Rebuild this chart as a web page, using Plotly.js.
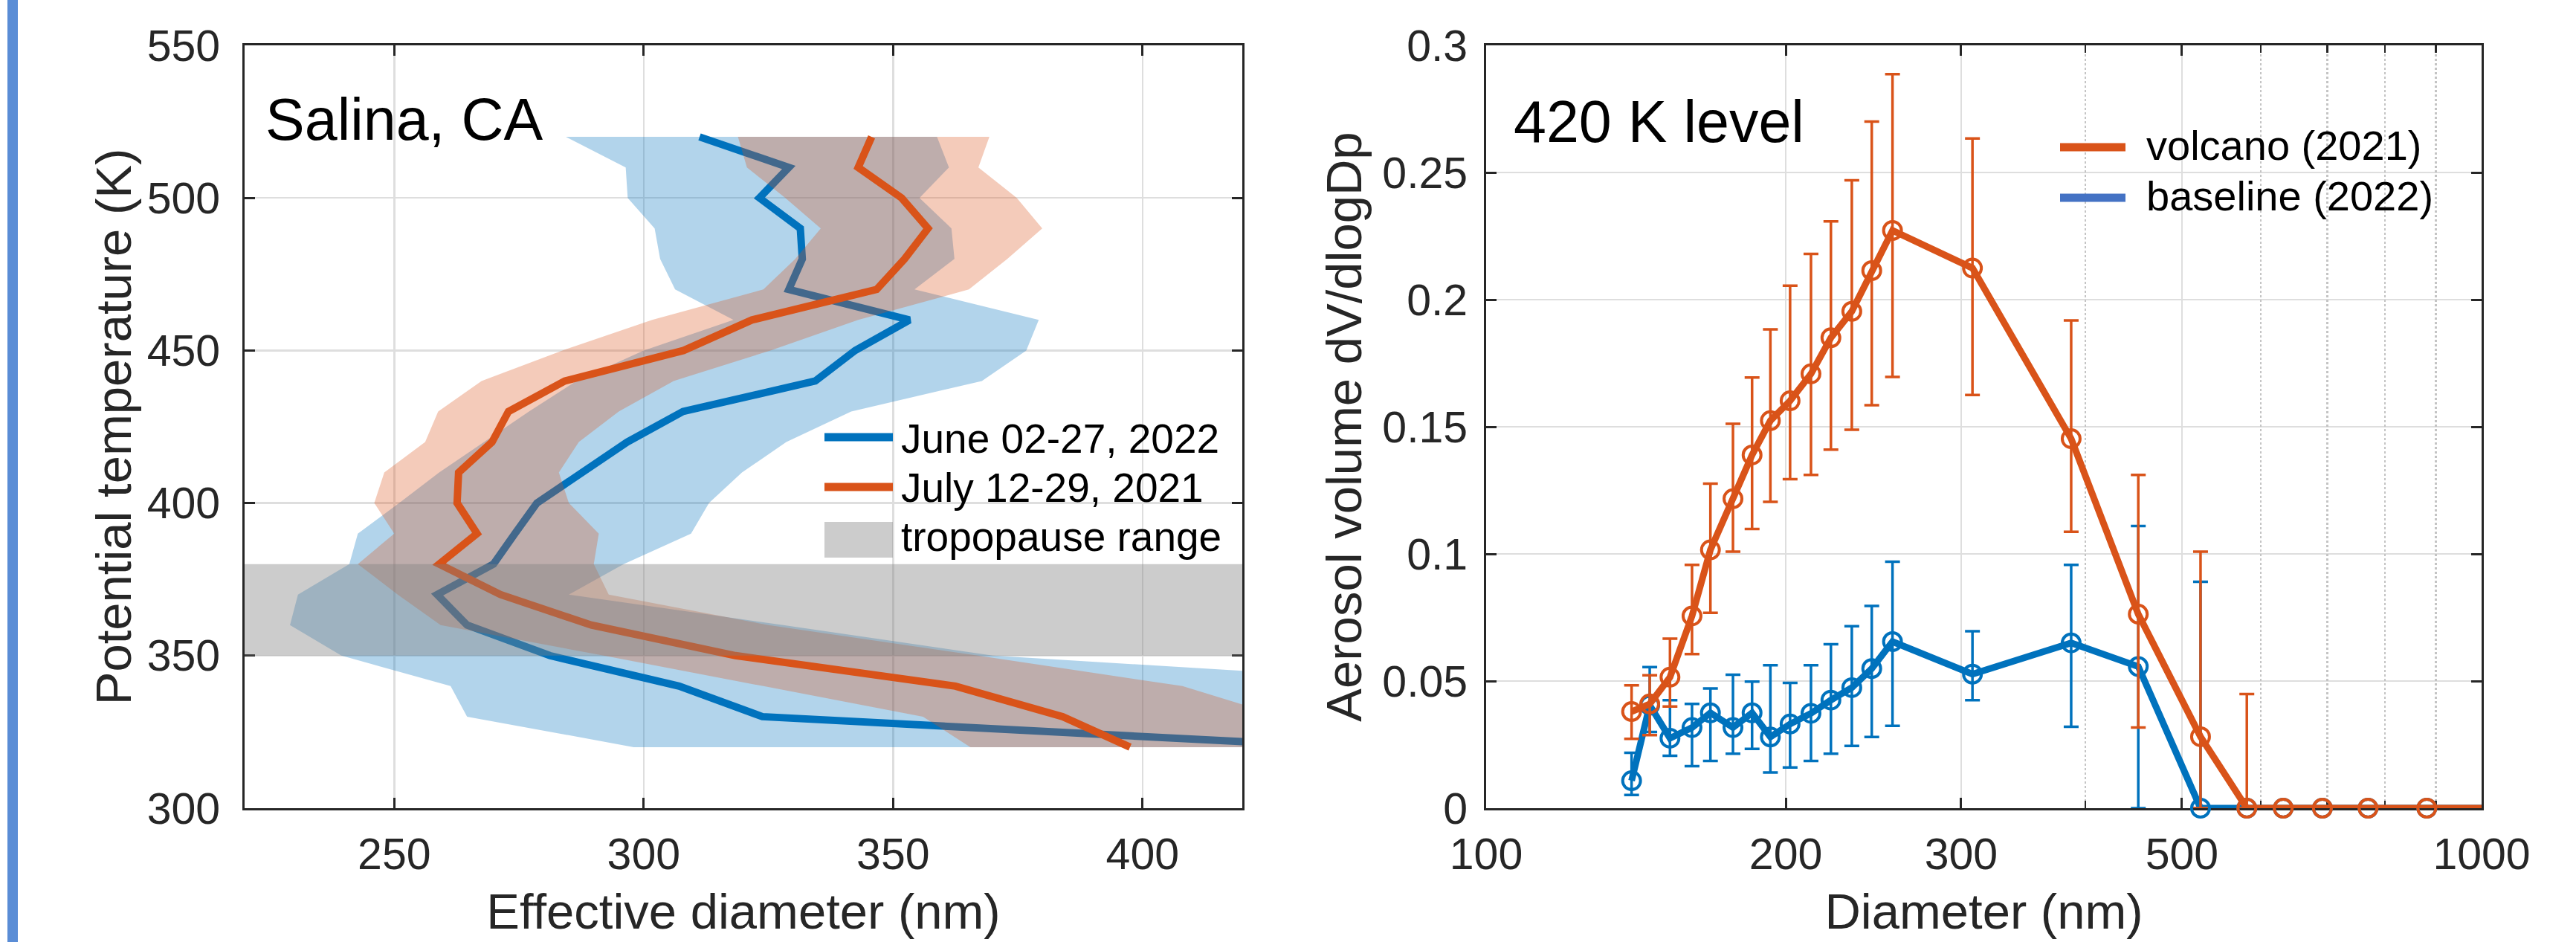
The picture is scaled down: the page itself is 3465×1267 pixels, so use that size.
<!DOCTYPE html>
<html><head><meta charset="utf-8">
<script src="https://cdn.plot.ly/plotly-3.0.1.min.js"></script>
<style>html,body{margin:0;padding:0;background:#fff;overflow:hidden}#chart{width:3465px;height:1267px}</style>
</head><body><div id="chart"></div>
<script>
// ---------- Left panel: effective diameter profiles (Salina, CA) ----------
const thetaLevels   = [520,510,500,490,480,470,460,450,440,430,420,410,400,390,380,370,360,350,340,330,320];
const june2022Diam  = [311.2,329.1,323.2,331.4,331.8,329.1,353.3,342.4,334.4,307.9,296.7,287.4,278.6,274.2,269.9,258.6,264.6,281.2,307.1,323.8,441];
const june2022Low   = [284.4,296.4,296.8,302.2,303.3,306.3,318,300,286.5,277,268,259,251,242.7,241,230.7,229.1,239.4,261.3,264.6,298];
const june2022High  = [358.8,361.2,355.3,361.7,362.3,354.3,379.2,376.7,367.8,341.6,328.6,319.7,313.1,309.5,296,285,328,370,470,470,470];
const july2021Diam  = [345.7,343,351.7,357,352.3,346.7,321.7,308,284.2,272.9,269.6,262.9,262.6,266.6,259,271.3,289.5,318.4,362.5,384,397.5];
const july2021Low   = [318.9,320.7,328.4,335.5,330.4,324,301.7,283.7,267.5,258.8,256.2,248,246,250,242.7,250.7,259.3,292,324,356,365.5];
const july2021High  = [369.3,367.1,374.8,379.9,372.9,365.2,343,325.4,306,295,287,283,285,291,290,293,325,367,408,428,440];
const tropopauseRange = [350, 380];
const leftXTicks = [250,300,350,400];
const leftYTicks = [300,350,400,450,500,550];
const leftLegendLabels = ["June 02-27, 2022", "July 12-29, 2021", "tropopause range"];

// ---------- Right panel: size distribution at 420 K ----------
const sizeBins      = [140,146,153,161,168,177,185,193,202,212,222,233,244,256,308,387,452,522,581,632,692,769,881,1010];
const volcano2021   = [0.038,0.041,0.0515,0.0756,0.1016,0.1217,0.1389,0.1524,0.1602,0.1708,0.185,0.1954,0.2114,0.2272,0.2124,0.1453,0.0763,0.0281,0,0,0,0,0,0];
const volcanoUpper  = [0.0483,0.0523,0.0667,0.0957,0.1276,0.1512,0.1694,0.1883,0.2055,0.218,0.2308,0.2469,0.27,0.2887,0.2634,0.1918,0.1311,0.1009,0.0449,null,null,null,null,null];
const volcanoLower  = [0.0273,0.0287,0.040,0.0606,0.0768,0.1009,0.1098,0.1205,0.1294,0.1311,0.141,0.1488,0.1585,0.1696,0.1625,0.1087,0.0317,0,0,null,null,null,null,null];
const baseline2022  = [0.0108,0.0405,0.0275,0.0317,0.0375,0.0317,0.0375,0.028,0.0331,0.0373,0.0425,0.0474,0.0549,0.0655,0.0527,0.065,0.0557,0,0,0,0,0,0,0];
const baselineUpper = [0.0218,0.0555,0.0425,0.041,0.0471,0.0525,0.0498,0.0562,0.0493,0.0562,0.0645,0.0716,0.0795,0.0969,0.0696,0.0957,0.111,0.089,null,null,null,null,null,null];
const baselineLower = [0.0052,0.030,0.0206,0.0165,0.0186,0.0214,0.0233,0.014,0.016,0.0186,0.0214,0.0245,0.028,0.0324,0.0425,0.032,0,0,null,null,null,null,null,null];
const rightXTicks = [100,200,300,500,1000];
const rightXMinor = [400,600,700,800,900];
const rightYTicks = [0,0.05,0.1,0.15,0.2,0.25,0.3];
const rightLegendLabels = ["volcano (2021)", "baseline (2022)"];

// ---------- styling / layout helpers ----------
const W = 3465, H = 1267;
const BLUE = '#0072BD', ORANGE = '#D95319';
const FONT = 'Liberation Sans, Arial, Helvetica, sans-serif';
const AX = '#262626';
const px = v => v / W;          // page pixel -> paper x
const py = v => 1 - v / H;      // page pixel -> paper y

const band = (lo, hi, lv) => ({x: lo.concat(hi.slice().reverse()), y: lv.concat(lv.slice().reverse())});
const plusOf  = (up, v) => up.map((u, i) => u == null ? NaN : u - v[i]);
const minusOf = (lo, v) => lo.map((l, i) => l == null ? NaN : v[i] - l);

const jb = band(june2022Low, june2022High, thetaLevels);
const ob = band(july2021Low, july2021High, thetaLevels);

const traces = [
  {x: jb.x, y: jb.y, type:'scatter', mode:'lines', fill:'toself', fillcolor:'rgba(0,114,189,0.3)', line:{width:0}, hoverinfo:'skip', xaxis:'x', yaxis:'y'},
  {x: june2022Diam, y: thetaLevels, type:'scatter', mode:'lines', line:{color:BLUE, width:10}, name:leftLegendLabels[0], xaxis:'x', yaxis:'y'},
  {x: ob.x, y: ob.y, type:'scatter', mode:'lines', fill:'toself', fillcolor:'rgba(217,83,25,0.3)', line:{width:0}, hoverinfo:'skip', xaxis:'x', yaxis:'y'},
  {x: july2021Diam, y: thetaLevels, type:'scatter', mode:'lines', line:{color:ORANGE, width:10}, name:leftLegendLabels[1], xaxis:'x', yaxis:'y'},

  {x: sizeBins, y: baseline2022, type:'scatter', mode:'lines+markers', name:rightLegendLabels[1],
   line:{color:BLUE, width:9}, marker:{symbol:'circle-open', size:24, color:BLUE, line:{width:4, color:BLUE}},
   error_y:{type:'data', symmetric:false, array:plusOf(baselineUpper, baseline2022), arrayminus:minusOf(baselineLower, baseline2022), color:BLUE, thickness:3.5, width:10},
   cliponaxis:false, xaxis:'x2', yaxis:'y2'},
  {x: sizeBins, y: volcano2021, type:'scatter', mode:'lines+markers', name:rightLegendLabels[0],
   line:{color:ORANGE, width:9}, marker:{symbol:'circle-open', size:24, color:ORANGE, line:{width:4, color:ORANGE}},
   error_y:{type:'data', symmetric:false, array:plusOf(volcanoUpper, volcano2021), arrayminus:minusOf(volcanoLower, volcano2021), color:ORANGE, thickness:3.5, width:10},
   cliponaxis:false, xaxis:'x2', yaxis:'y2'},
  {x: [rightXMinor[0]], y: [null], type:'scatter', mode:'markers', hoverinfo:'skip', xaxis:'x3', yaxis:'y2'}
];

const yDom = [1 - 1087/H, 1 - 61/H];
const common = {
  ticks:'inside', ticklen:14, tickwidth:3, tickcolor:AX,
  showline:true, linewidth:3, linecolor:AX, mirror:'ticks',
  showgrid:true, gridcolor:'#dedede', gridwidth:2.5, zeroline:false,
  tickfont:{size:59, family:FONT, color:AX}, automargin:false
};
const titleFont = {size:67, family:FONT, color:AX};

const layout = {
  width:W, height:H, margin:{l:0, r:0, t:0, b:0, pad:0},
  paper_bgcolor:'#fff', plot_bgcolor:'#fff', showlegend:false,
  font:{family:FONT, color:AX},
  xaxis: Object.assign({}, common, {domain:[px(329), px(1671)], range:[220,420], tickvals:leftXTicks, anchor:'y',
          ticklabelstandoff:8, title:{text:'Effective diameter (nm)', font:titleFont, standoff:22}}),
  yaxis: Object.assign({}, common, {domain:yDom, range:[300,550], tickvals:leftYTicks, anchor:'x',
          ticklabelstandoff:18, title:{text:'Potential temperature (K)', font:titleFont, standoff:0}}),
  xaxis2: Object.assign({}, common, {domain:[px(1999), px(3338)], type:'log', range:[2,3], tickvals:rightXTicks,
          ticktext:rightXTicks.map(String), anchor:'y2', layer:'below traces',
          ticklabelstandoff:8, title:{text:'Diameter (nm)', font:titleFont, standoff:22}}),
  xaxis3: {type:'log', range:[2,3], overlaying:'x2', anchor:'y2', tickvals:rightXMinor, showticklabels:false,
          ticks:'inside', ticklen:10, tickwidth:2.5, tickcolor:AX, mirror:'ticks', showline:false,
          showgrid:true, gridcolor:'#c4c4c4', griddash:'dot', gridwidth:2.5, zeroline:false, layer:'below traces'},
  yaxis2: Object.assign({}, common, {domain:yDom, range:[0,0.3], tickvals:rightYTicks, anchor:'x2', layer:'below traces',
          ticklabelstandoff:10, title:{text:'Aerosol volume dV/dlogDp', font:titleFont, standoff:6}}),
  shapes: [
    // left-edge accent bar
    {type:'rect', xref:'paper', yref:'paper', x0:px(10), x1:px(24), y0:0, y1:1, fillcolor:'#5a8dd6', line:{width:0}},
    // tropopause range band
    {type:'rect', xref:'x domain', yref:'y', x0:0, x1:1, y0:tropopauseRange[0], y1:tropopauseRange[1],
     fillcolor:'rgba(128,128,128,0.4)', line:{width:0}, layer:'above'},
    // left legend swatches
    {type:'line', xref:'paper', yref:'paper', x0:px(1109), x1:px(1201), y0:py(588), y1:py(588), line:{color:BLUE, width:11}},
    {type:'line', xref:'paper', yref:'paper', x0:px(1109), x1:px(1201), y0:py(655), y1:py(655), line:{color:ORANGE, width:11}},
    {type:'rect', xref:'paper', yref:'paper', x0:px(1109), x1:px(1201), y0:py(750), y1:py(702), fillcolor:'rgba(128,128,128,0.4)', line:{width:0}},
    // right legend swatches
    {type:'line', xref:'paper', yref:'paper', x0:px(2771), x1:px(2859), y0:py(198), y1:py(198), line:{color:ORANGE, width:11}},
    {type:'line', xref:'paper', yref:'paper', x0:px(2771), x1:px(2859), y0:py(266), y1:py(266), line:{color:'#4472C4', width:11}}
  ],
  annotations: [
    {text:'Salina, CA', xref:'paper', yref:'paper', x:px(355), y:py(114), xanchor:'left', yanchor:'top', showarrow:false, font:{size:79, family:FONT, color:'#000'}},
    {text:'420 K level', xref:'paper', yref:'paper', x:px(2034), y:py(117), xanchor:'left', yanchor:'top', showarrow:false, font:{size:79, family:FONT, color:'#000'}},
    {text:leftLegendLabels[0], xref:'paper', yref:'paper', x:px(1210), y:py(590), xanchor:'left', yanchor:'middle', showarrow:false, font:{size:55, family:FONT, color:'#000'}},
    {text:leftLegendLabels[1], xref:'paper', yref:'paper', x:px(1210), y:py(656), xanchor:'left', yanchor:'middle', showarrow:false, font:{size:55, family:FONT, color:'#000'}},
    {text:leftLegendLabels[2], xref:'paper', yref:'paper', x:px(1210), y:py(722), xanchor:'left', yanchor:'middle', showarrow:false, font:{size:55, family:FONT, color:'#000'}},
    {text:rightLegendLabels[0], xref:'paper', yref:'paper', x:px(2885), y:py(195), xanchor:'left', yanchor:'middle', showarrow:false, font:{size:56, family:FONT, color:'#000'}},
    {text:rightLegendLabels[1], xref:'paper', yref:'paper', x:px(2885), y:py(263), xanchor:'left', yanchor:'middle', showarrow:false, font:{size:56, family:FONT, color:'#000'}}
  ]
};

Plotly.newPlot('chart', traces, layout, {staticPlot:true, displayModeBar:false});
</script></body></html>
